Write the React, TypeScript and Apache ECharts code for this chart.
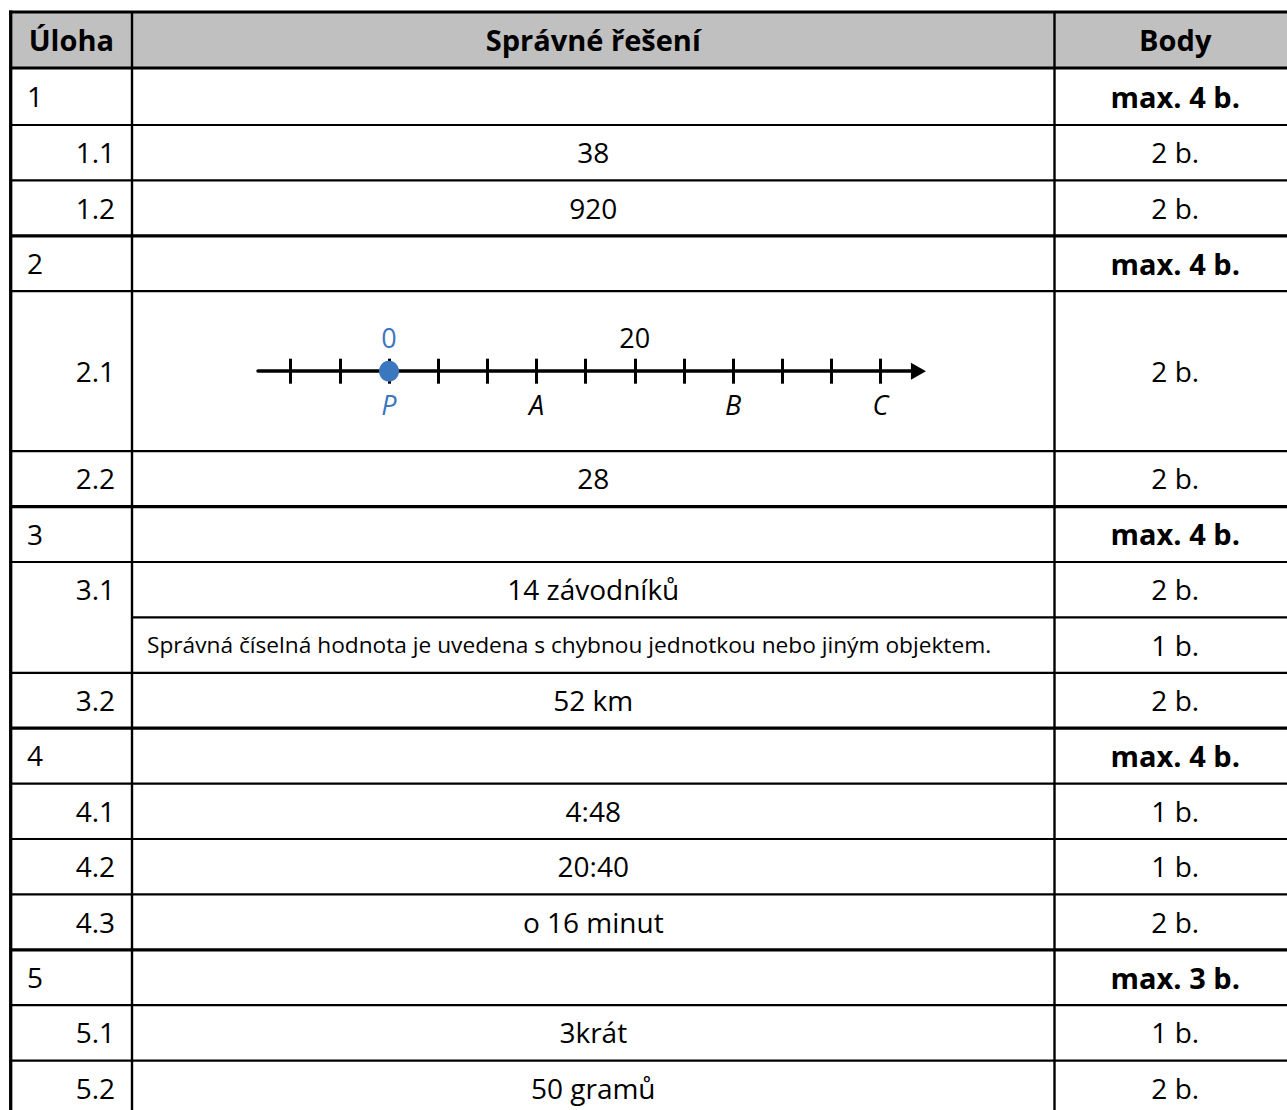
import React, { useEffect, useRef } from 'react';
import * as echarts from 'echarts';

// ---------- data ----------
const headers = ['Úloha', 'Správné řešení', 'Body'];
const NUMBER_LINE = '__number_line__';
const taskIds = ['1', '1.1', '1.2', '2', '2.1', '2.2', '3', '3.1', '3.1', '3.2', '4', '4.1', '4.2', '4.3', '5', '5.1', '5.2'];
const answers = [
  '', '38', '920',
  '', NUMBER_LINE, '28',
  '', '14 závodníků', 'Správná číselná hodnota je uvedena s chybnou jednotkou nebo jiným objektem.', '52 km',
  '', '4:48', '20:40', 'o 16 minut',
  '', '3krát', '50 gramů',
];
const points = [
  'max. 4 b.', '2 b.', '2 b.',
  'max. 4 b.', '2 b.', '2 b.',
  'max. 4 b.', '2 b.', '1 b.', '2 b.',
  'max. 4 b.', '1 b.', '1 b.', '2 b.',
  'max. 3 b.', '1 b.', '2 b.',
];
// number line (task 2.1)
const numberLineTicks = [-8, -4, 0, 4, 8, 12, 16, 20, 24, 28, 32, 36, 40];
const numberLineLabelValues = [0, 20];
const numberLinePointNames = ['P', 'A', 'B', 'C'];
const numberLinePointValues = [0, 12, 28, 40];
const markedPoint = [[0, 0]];

// ---------- styles ----------
const W = 1287;
const H = 1110;
const BLUE = '#3a77bf';
const FONT = '"Open Sans", "Noto Sans", sans-serif';
const HEADER_FILL = '#c0c0c0';

function txt(x: number, y: number, text: string, opts: any = {}) {
  const align = opts.align || 'center';
  return {
    type: 'text',
    x,
    y,
    z: 10,
    style: {
      text,
      fill: opts.color || '#000',
      fontSize: opts.size || (opts.bold ? 29 : 28),
      fontFamily: FONT,
      fontWeight: opts.bold ? 'bold' : 'normal',
      fontStyle: opts.italic ? 'italic' : 'normal',
      align,
      verticalAlign: 'middle',
      textAlign: align,
      textVerticalAlign: 'middle',
    },
  };
}

function hline(x1: number, x2: number, y: number, w: number) {
  return { type: 'line', z: 5, shape: { x1, y1: y, x2, y2: y }, style: { stroke: '#000', lineWidth: w } };
}
function vline(x: number, y1: number, y2: number, w: number) {
  return { type: 'line', z: 5, shape: { x1: x, y1, x2: x, y2 }, style: { stroke: '#000', lineWidth: w } };
}

function buildOption() {
  const tableLeft = 10.7;
  const tableRight = 1296;
  const col1 = 132;
  const col2 = 1054.5;
  const headerTop = 12;
  const headerBottom = 68;
  const firstRowH = 57;
  const rowH = 55.4;
  const tallRowH = 160;
  const thick = 3.2;
  const thin = 2.2;
  const textDy = -0.5;

  const tops: number[] = [];
  const heights: number[] = [];
  let y = headerBottom;
  answers.forEach((a, i) => {
    const h = i === 0 ? firstRowH : a === NUMBER_LINE ? tallRowH : rowH;
    tops.push(y);
    heights.push(h);
    y += h;
  });

  const elements: any[] = [];
  elements.push({
    type: 'rect',
    z: 1,
    shape: { x: tableLeft, y: headerTop, width: tableRight - tableLeft, height: headerBottom - headerTop },
    style: { fill: HEADER_FILL },
  });
  const hc = (headerTop + headerBottom) / 2 + textDy;
  elements.push(txt((tableLeft + col1) / 2, hc, headers[0], { bold: true }));
  elements.push(txt((col1 + col2) / 2, hc, headers[1], { bold: true }));
  elements.push(txt((col2 + tableRight) / 2, hc, headers[2], { bold: true }));

  elements.push(hline(tableLeft - 1.6, tableRight, headerTop, thick));
  elements.push(hline(tableLeft, tableRight, headerBottom, thick));

  let nlCenter = 0;
  answers.forEach((a, i) => {
    const top = tops[i];
    const h = heights[i];
    const cy = top + h / 2 + textDy;
    const id = taskIds[i];
    const isGroup = id.indexOf('.') < 0;
    const isCont = i > 0 && taskIds[i - 1] === id;
    if (i > 0) {
      elements.push(hline(isCont ? col1 : tableLeft, tableRight, top, isGroup ? thick : thin));
    }
    if (!isCont) {
      if (isGroup) elements.push(txt(27, cy, id, { align: 'left' }));
      else elements.push(txt(115, cy, id, { align: 'right' }));
    }
    if (a === NUMBER_LINE) {
      nlCenter = top + h / 2;
    } else if (a) {
      if (isCont) elements.push(txt(147, cy, a, { align: 'left', size: 22.7 }));
      else elements.push(txt((col1 + col2) / 2, cy, a));
    }
    elements.push(txt((col2 + tableRight) / 2, cy, points[i], { bold: isGroup }));
  });

  elements.push(vline(tableLeft, headerTop - 1.6, H + 5, 3.3));
  elements.push(vline(col1, headerTop, H + 5, 2.4));
  elements.push(vline(col2, headerTop, H + 5, 2.4));

  // number line geometry
  const zeroX = 389;
  const k = (880.5 - 389) / 40;
  const nlMin = -10.66;
  const nlMax = 43.09;
  const gLeft = zeroX + nlMin * k;
  const gWidth = (nlMax - nlMin) * k;

  const commonAxis = {
    type: 'value',
    min: nlMin,
    max: nlMax,
    splitLine: { show: false },
  };
  const tickCfg = {
    show: true,
    customValues: numberLineTicks,
    length: 12.5,
    lineStyle: { color: '#000', width: 3 },
  };

  return {
    animation: false,
    backgroundColor: '#fff',
    graphic: { elements },
    grid: [
      { left: gLeft, width: gWidth, top: nlCenter - 60, height: 60 },
      { left: gLeft, width: gWidth, top: nlCenter, height: 60 },
    ],
    xAxis: [
      {
        ...commonAxis,
        gridIndex: 0,
        position: 'bottom',
        axisLine: {
          show: true,
          onZero: false,
          symbol: ['none', 'triangle'],
          symbolSize: [17, 15],
          lineStyle: { color: '#000', width: 3.5 },
        },
        axisTick: tickCfg,
        axisLabel: {
          show: true,
          customValues: numberLinePointValues,
          formatter: (v: number) => numberLinePointNames[numberLinePointValues.indexOf(v)] || '',
          color: (v: any) => (Number(v) === 0 ? BLUE : '#000'),
          fontStyle: 'italic',
          fontSize: 27,
          fontFamily: FONT,
          margin: 20,
        },
      },
      {
        ...commonAxis,
        gridIndex: 1,
        position: 'top',
        axisLine: { show: false, onZero: false },
        axisTick: tickCfg,
        axisLabel: {
          show: true,
          customValues: numberLineLabelValues,
          formatter: (v: number) => String(v),
          color: (v: any) => (Number(v) === 0 ? BLUE : '#000'),
          fontSize: 27,
          fontFamily: FONT,
          margin: 20,
        },
      },
    ],
    yAxis: [
      { type: 'value', gridIndex: 0, min: 0, max: 1, show: false },
      { type: 'value', gridIndex: 1, min: 0, max: 1, show: false },
    ],
    series: [
      {
        type: 'scatter',
        xAxisIndex: 0,
        yAxisIndex: 0,
        data: markedPoint,
        symbol: 'circle',
        symbolSize: [20, 21],
        itemStyle: { color: BLUE, opacity: 1 },
        clip: false,
        z: 5,
        silent: true,
      },
    ],
  };
}

export default function App() {
  const ref = useRef<HTMLDivElement>(null);
  useEffect(() => {
    document.body.style.margin = '0';
    if (!ref.current) return;
    const chart = echarts.init(ref.current, undefined, { renderer: 'svg', width: W, height: H });
    chart.setOption(buildOption() as any);
    return () => chart.dispose();
  }, []);
  return <div ref={ref} style={{ width: W, height: H, background: '#fff' }} />;
}
